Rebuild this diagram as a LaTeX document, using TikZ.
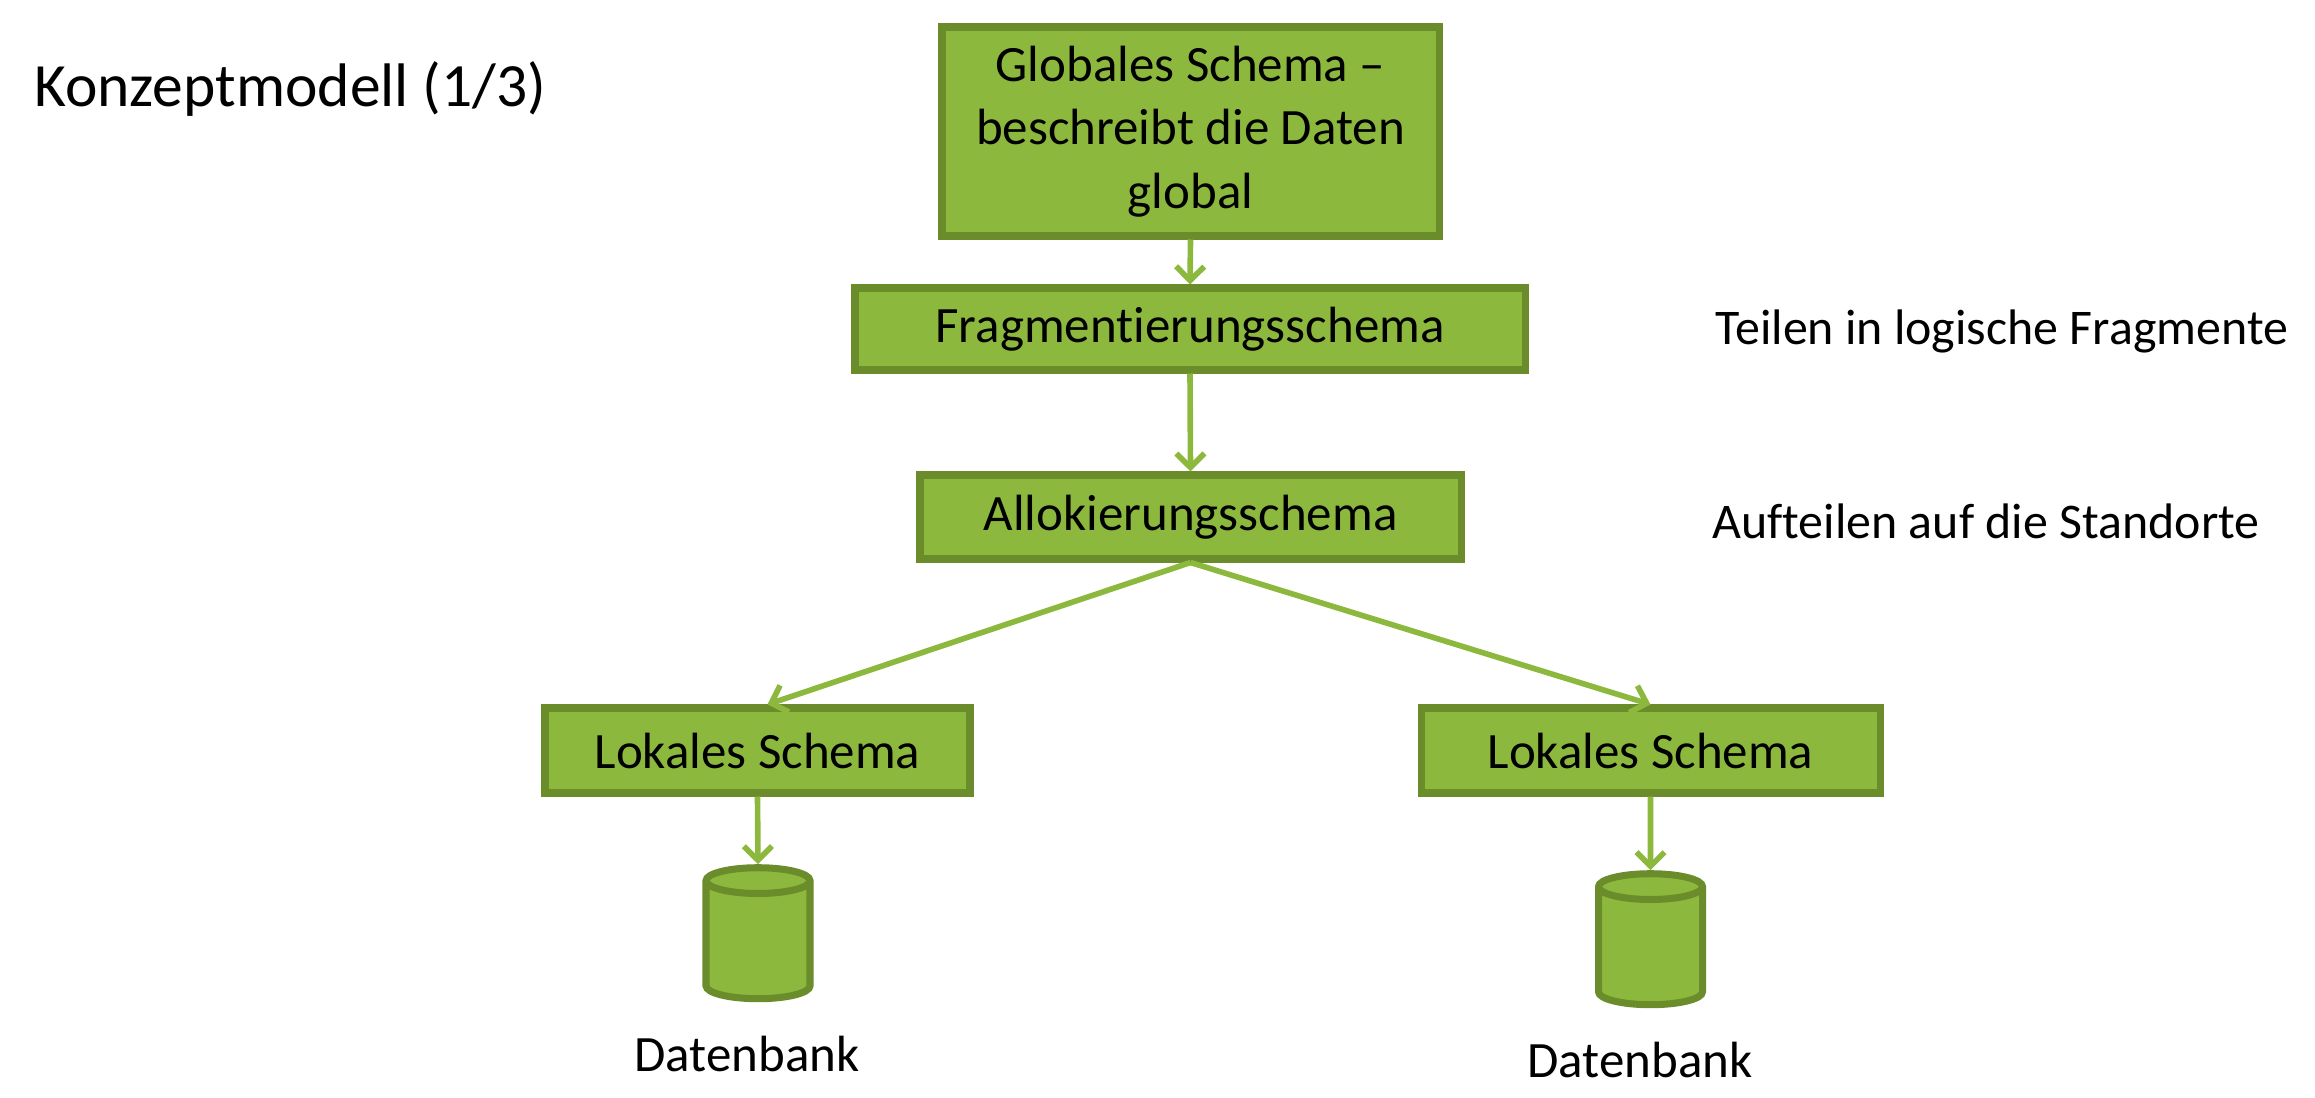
\documentclass[tikz,border=0pt]{standalone}
\usepackage{fontspec}
\setmainfont{Carlito}[Ligatures=NoCommon]
\usetikzlibrary{arrows.meta,shapes.geometric}
\definecolor{boxfill}{HTML}{8DB83E}
\definecolor{boxline}{HTML}{6A8C2B}
\definecolor{arrowcol}{HTML}{8DB83E}
\tikzset{
  schema/.style={draw=boxline, fill=boxfill, line width=2pt, font=\fontsize{14.5}{18}\selectfont, align=center, inner sep=0pt},
  db/.style={cylinder, shape border rotate=90, draw=boxline, fill=boxfill, line width=2pt, minimum width=1.04cm, minimum height=1.31cm, aspect=1.1},
  flow/.style={draw=arrowcol, line width=1.6pt, -{Straight Barb[length=4pt,width=8pt]}},
  note/.style={font=\fontsize{14.2}{18}\selectfont, anchor=west}
}
\begin{document}
\begin{tikzpicture}
    \useasboundingbox (0,0) rectangle (23.15,-10.98);
    \node[font=\fontsize{17.5}{20}\selectfont, anchor=west] (title) at (0.22,-0.89) {Konzeptmodell (1/3)};
    \node[schema, minimum width=4.97cm, minimum height=2.09cm] (global) at (11.905,-1.315) {Globales Schema --\\beschreibt die Daten\\global};
    \node[schema, minimum width=6.70cm, minimum height=0.82cm] (frag) at (11.90,-3.29) {Fragmentierungsschema};
    \node[schema, minimum width=5.41cm, minimum height=0.84cm] (alloc) at (11.905,-5.17) {Allokierungsschema};
    \node[schema, minimum width=4.25cm, minimum height=0.85cm] (lokA) at (7.575,-7.505) {Lokales Schema};
    \node[schema, minimum width=4.59cm, minimum height=0.85cm] (lokB) at (16.505,-7.505) {Lokales Schema};
    \node[db] (dbA) at (7.58,-9.455) {};
    \node[db] (dbB) at (16.505,-9.515) {};
    \node[font=\fontsize{14.5}{18}\selectfont] (labA) at (7.47,-10.54) {Datenbank};
    \node[font=\fontsize{14.5}{18}\selectfont] (labB) at (16.40,-10.60) {Datenbank};
    \node[note] (noteFrag) at (17.03,-3.31) {Teilen in logische Fragmente};
    \node[note] (noteAlloc) at (17.00,-5.21) {Aufteilen auf die Standorte};
    % connectors
    \draw[flow] (global.south) -- (frag.north);
    \draw[flow] (frag.south) -- (alloc.north);
    \draw[flow] (alloc.south) -- ([xshift=0.1cm]lokA.north);
    \draw[flow] (alloc.south) -- (lokB.north);
    \draw[flow] (lokA.south) -- (dbA.north);
    \draw[flow] (lokB.south) -- (dbB.north);
\end{tikzpicture}
\end{document}
